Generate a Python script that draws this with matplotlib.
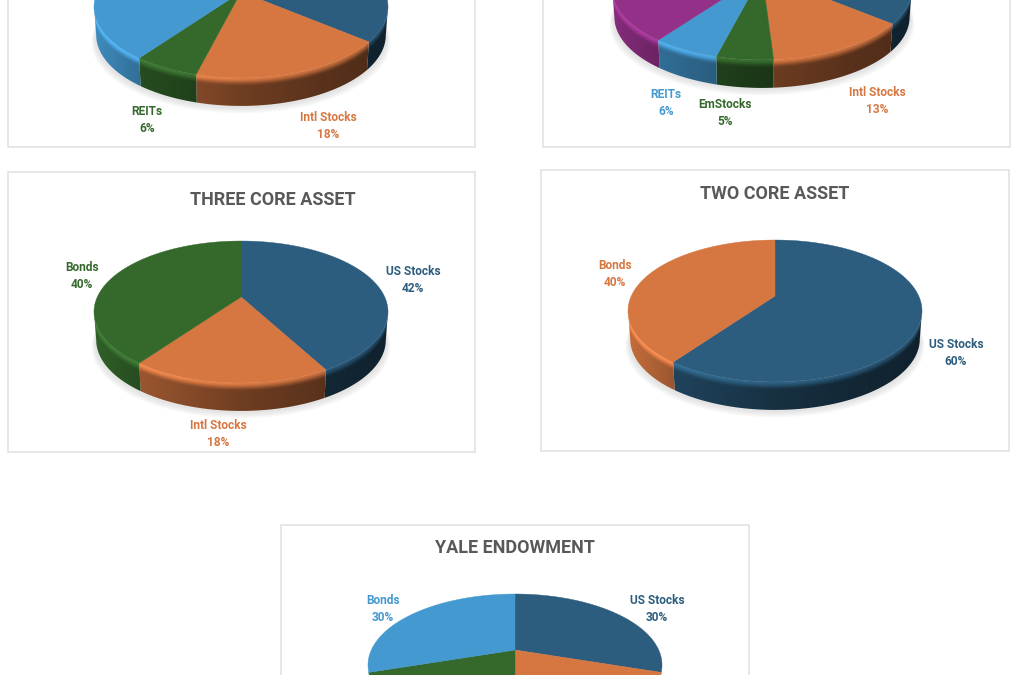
import numpy as np
import matplotlib
matplotlib.use("Agg")
import matplotlib.pyplot as plt
from matplotlib.collections import PolyCollection
from matplotlib.colors import to_rgb
from matplotlib.patches import Polygon, Rectangle

plt.rcParams["font.family"] = ["Roboto", "DejaVu Sans"]

NAVY = "#2c5d7f"
ORANGE = "#d67742"
GREEN = "#35692c"
BLUE = "#4499d0"
PURPLE = "#933088"

# slices run clockwise from 12 o'clock
# slices that never reach the visible area have no label, their values are a guess
four_values = [36, 18, 6, 40]
four_colors = [NAVY, ORANGE, GREEN, BLUE]

five_values = [36, 13, 5, 6, 40]
five_colors = [NAVY, ORANGE, GREEN, BLUE, PURPLE]

three_names = ["US Stocks", "Intl Stocks", "Bonds"]
three_values = [42, 18, 40]
three_colors = [NAVY, ORANGE, GREEN]

two_names = ["US Stocks", "Bonds"]
two_values = [60, 40]
two_colors = [NAVY, ORANGE]

yale_names = ["US Stocks", "Other A", "Other B", "Bonds"]
yale_values = [30, 20, 20, 30]
yale_colors = [NAVY, ORANGE, GREEN, BLUE]

# pie geometry in pixels, a tilted disc seen in perspective
PERSP = 0.211
RADIUS_X = 143.7
RADIUS_Y = 67.8
DEPTH = 28
BOTTOM_SCALE = 0.985
FRONT_START = np.arccos(-PERSP)


def project(cx, hub_y, theta, rx=RADIUS_X):
    w = 1 + PERSP * np.cos(theta)
    x = cx + rx * np.sin(theta) / w
    y = hub_y - RADIUS_Y * np.cos(theta) / w
    return x, y


def wall_image(base, x_grid, y_grid, cx, rim_x, rim_y, half_width):
    # wall gets darker going left to right, with a lit band right under the rim
    base = np.array(to_rgb(base))
    xx, yy = np.meshgrid(x_grid, y_grid)
    dx = np.clip((xx - cx) / half_width, -1, 1)
    t = np.clip((yy - np.interp(xx, rim_x, rim_y)) / DEPTH, 0, 1)
    shade = np.interp(dx, [-1, -0.68, 0, 0.55, 1], [0.92, 0.72, 0.52, 0.42, 0.36])
    high = 1.05 - 0.2 * dx
    k = np.clip(t / 0.3, 0, 1)
    k = k * k * (3 - 2 * k)
    factor = high * (1 - k) + shade * k
    return np.clip(base[None, None, :] * factor[..., None], 0, 1)


def draw_shadow(ax, cx, hub_y, rx):
    theta = np.radians(np.arange(0, 361, 2))
    x, y = project(cx, hub_y, theta, rx)
    for grow in [9, 7, 5, 3]:
        sx = cx + (x - cx) * (BOTTOM_SCALE + grow / 300)
        sy = y + DEPTH + grow * 0.8
        ax.fill(sx, sy, color="#b8b8b8", alpha=0.1, lw=0, zorder=2)


def draw_pie(ax, cx, hub_y, values, colors, rx=RADIUS_X):
    draw_shadow(ax, cx, hub_y, rx)
    edges = np.cumsum([0] + list(values)) / sum(values) * 2 * np.pi

    front = np.linspace(FRONT_START, 2 * np.pi - FRONT_START, 400)
    rim_x, rim_y = project(cx, hub_y, front, rx)
    half_width = rim_x.max() - cx
    rim_x, rim_y = rim_x[::-1], rim_y[::-1]

    tops = []
    for i, color in enumerate(colors):
        n = max(int(np.degrees(edges[i + 1] - edges[i])), 2)
        theta = np.linspace(edges[i], edges[i + 1], n + 1)
        x, y = project(cx, hub_y, theta, rx)
        tops.append([(cx, hub_y)] + list(zip(x, y)))

        # wall only for the part of the slice that faces the viewer
        lo = max(edges[i], FRONT_START)
        hi = min(edges[i + 1], 2 * np.pi - FRONT_START)
        if hi <= lo:
            continue
        theta = np.linspace(lo, hi, n + 1)
        x, y = project(cx, hub_y, theta, rx)
        xb = cx + (x - cx) * BOTTOM_SCALE
        yb = y + DEPTH
        outline = np.vstack([np.column_stack([x, y]),
                             np.column_stack([xb, yb])[::-1]])

        x_grid = np.arange(np.floor(outline[:, 0].min()), np.ceil(outline[:, 0].max()) + 1) + 0.5
        y_grid = np.arange(np.floor(outline[:, 1].min()), np.ceil(outline[:, 1].max()) + 1) + 0.5
        img = wall_image(color, x_grid, y_grid, cx, rim_x, rim_y, half_width)
        im = ax.imshow(img, extent=(x_grid[0] - 0.5, x_grid[-1] + 0.5, y_grid[-1] + 0.5, y_grid[0] - 0.5),
                       aspect="auto", interpolation="bilinear", zorder=3)
        clip = Polygon(outline, closed=True, transform=ax.transData)
        im.set_clip_path(clip)

    ax.add_collection(PolyCollection(tops, facecolors=colors, edgecolors="face",
                                     linewidths=0.3, zorder=4))


def draw_panel(ax, x0, y0, x1, y1):
    ax.add_patch(Rectangle((x0, y0), x1 - x0, y1 - y0, facecolor="white",
                           edgecolor="#e0e0e0", lw=1.1, zorder=1))


def draw_label(ax, x, y, name, value, color):
    ax.text(x, y, name, color=color, fontsize=8.6, fontweight="bold",
            ha="center", va="center", zorder=6)
    ax.text(x, y + 17, f"{value}%", color=color, fontsize=8.6, fontweight="bold",
            ha="center", va="center", zorder=6)


def draw_title(ax, x, y, title):
    ax.text(x, y, title, color="#595959", fontsize=13, fontweight="bold",
            ha="center", va="center", zorder=6)


fig = plt.figure(figsize=(10.24, 6.75), dpi=100)
ax = fig.add_axes([0, 0, 1, 1])
ax.axis("off")

# top left, cut off by the picture edge
draw_panel(ax, 8, -50, 475, 147)
draw_pie(ax, 241, -8, four_values, four_colors)
draw_label(ax, 147, 111.5, "REITs", four_values[2], GREEN)
draw_label(ax, 328, 117.5, "Intl Stocks", four_values[1], ORANGE)

# top right, cut off too
draw_panel(ax, 543, -50, 1010, 147)
draw_pie(ax, 762, -26, five_values, five_colors, rx=146.5)
draw_label(ax, 666, 94.5, "REITs", five_values[3], BLUE)
draw_label(ax, 725, 104.5, "EmStocks", five_values[2], GREEN)
draw_label(ax, 877, 92.5, "Intl Stocks", five_values[1], ORANGE)

draw_panel(ax, 8, 172, 475, 452)
draw_title(ax, 273, 200, "THREE CORE ASSET")
draw_pie(ax, 241, 297, three_values, three_colors)
draw_label(ax, 413, 271.5, three_names[0], three_values[0], NAVY)
draw_label(ax, 218, 425.5, three_names[1], three_values[1], ORANGE)
draw_label(ax, 82, 267.5, three_names[2], three_values[2], GREEN)

draw_panel(ax, 541, 170, 1009, 451)
draw_title(ax, 775, 194, "TWO CORE ASSET")
draw_pie(ax, 775, 296, two_values, two_colors)
draw_label(ax, 956, 344.5, two_names[0], two_values[0], NAVY)
draw_label(ax, 615, 265.5, two_names[1], two_values[1], ORANGE)

# bottom one runs off the picture
draw_panel(ax, 281, 525, 749, 720)
draw_title(ax, 515, 548, "YALE ENDOWMENT")
draw_pie(ax, 515, 650, yale_values, yale_colors)
draw_label(ax, 657, 600.5, yale_names[0], yale_values[0], NAVY)
draw_label(ax, 383, 600.5, yale_names[3], yale_values[3], BLUE)

ax.set_xlim(0, 1024)
ax.set_ylim(675, 0)
fig.savefig("out.png", dpi=100)
